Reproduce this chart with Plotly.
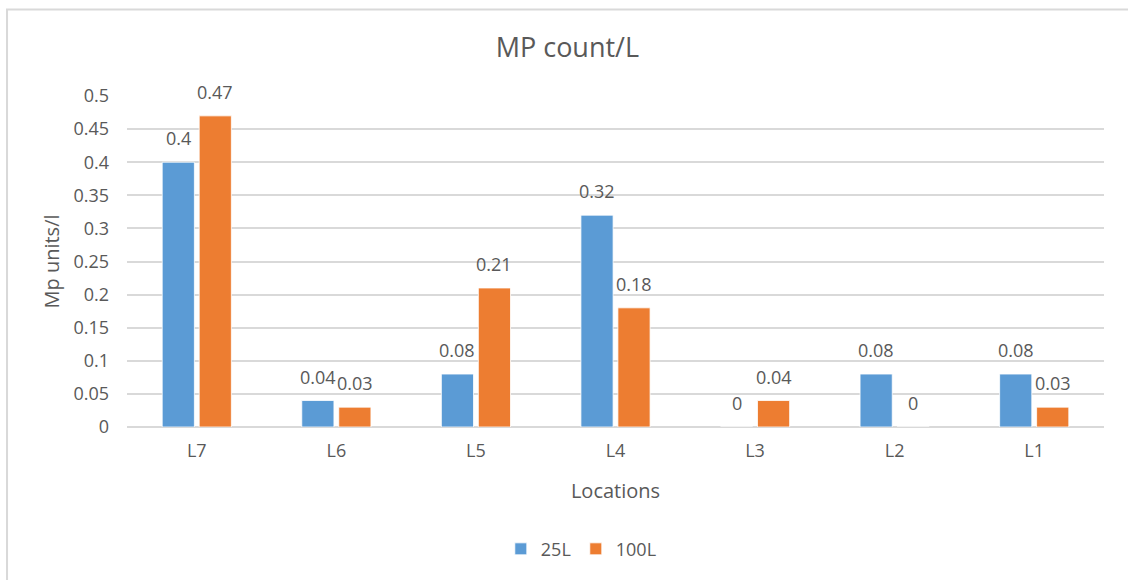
import plotly.graph_objects as go

# Sampling locations and MP concentrations per sample volume
locations = ["L7", "L6", "L5", "L4", "L3", "L2", "L1"]
series_names = ["25L", "100L"]
values_25l = [0.40, 0.04, 0.08, 0.32, 0.00, 0.08, 0.08]
values_100l = [0.47, 0.03, 0.21, 0.18, 0.04, 0.00, 0.03]
y_ticks = [0, 0.05, 0.1, 0.15, 0.2, 0.25, 0.3, 0.35, 0.4, 0.45, 0.5]

BLUE = "#5B9BD5"
ORANGE = "#ED7D31"
TEXT = "#595959"
GRID = "#D9D9D9"
FONT = "Open Sans"

BARGAP = 0.47
BARGROUPGAP = 0.13

fig = go.Figure()
for name, vals, color in [(series_names[0], values_25l, BLUE),
                          (series_names[1], values_100l, ORANGE)]:
    fig.add_trace(go.Bar(
        x=locations, y=vals, name=name,
        marker=dict(color=color, line=dict(color="white", width=0.8)),
        hoverinfo="x+y+name",
    ))

# Value labels above each bar (offset to the centre of each grouped slot)
slot = (1 - BARGAP) / 2
for s, vals in enumerate([values_25l, values_100l]):
    offset = -slot / 2 if s == 0 else slot / 2
    for i, v in enumerate(vals):
        fig.add_annotation(
            x=i + offset, y=v, xref="x", yref="y",
            text=f"{v:g}", showarrow=False,
            yanchor="bottom", yshift=10,
            font=dict(family=FONT, size=18, color=TEXT),
        )

# Light chart-area border
fig.add_shape(
    type="rect", xref="paper", yref="paper",
    x0=-0.1228, x1=1.035, y0=-0.6, y1=1.261,
    line=dict(color=GRID, width=2), fillcolor="rgba(0,0,0,0)", layer="below",
)

fig.update_layout(
    width=1128, height=580,
    margin=dict(l=127, r=24, t=96, b=151),
    paper_bgcolor="white", plot_bgcolor="white",
    barmode="group", bargap=BARGAP, bargroupgap=BARGROUPGAP,
    font=dict(family=FONT, color=TEXT, size=18),
    title=dict(text="MP count/L", x=0.503, xanchor="center",
               y=1 - 48 / 580, yanchor="middle",
               font=dict(family=FONT, size=27, color=TEXT)),
    xaxis=dict(
        title=dict(text="Locations", font=dict(size=20, color=TEXT), standoff=22),
        showgrid=False, showline=False, ticks="",
        tickfont=dict(size=18, color=TEXT), ticklabelstandoff=11,
        fixedrange=True,
    ),
    yaxis=dict(
        title=dict(text="Mp units/l", font=dict(size=20, color=TEXT), standoff=8),
        range=[0, 0.5], tickvals=y_ticks, ticktext=[f"{t:g}" for t in y_ticks],
        showgrid=True, gridcolor=GRID, gridwidth=1.6,
        zeroline=True, zerolinecolor=GRID, zerolinewidth=1.6,
        showline=False, ticks="",
        tickfont=dict(size=18, color=TEXT), ticklabelstandoff=17,
        fixedrange=True,
    ),
    legend=dict(
        orientation="h", x=0.465, xanchor="center", y=-0.369, yanchor="middle",
        font=dict(size=18, color=TEXT), itemwidth=30, traceorder="normal",
    ),
    showlegend=True,
)

fig.write_html("out.html")
